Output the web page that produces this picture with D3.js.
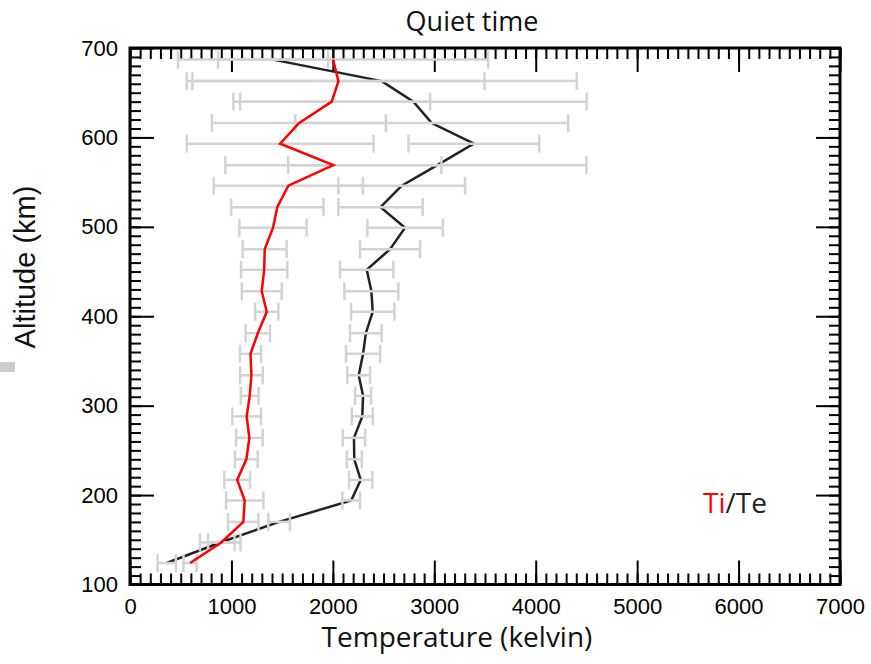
<!DOCTYPE html>
<html>
<head>
<meta charset="utf-8">
<script src="https://cdn.jsdelivr.net/npm/d3@7"></script>
<style>
  html, body { margin: 0; padding: 0; background: #fff; }
  svg { display: block; }
</style>
</head>
<body>
<svg id="chart" width="871" height="664"></svg>
<script>
// ---- data ----
const altitude = [124,147,170,194,217,240,264,288,311,334,358,381,405,428,452,475,499,522,546,569,593,616,640,663,687];
const ionTemp  = [592,900,1117,1131,1057,1147,1177,1150,1180,1197,1188,1260,1348,1299,1323,1328,1410,1452,1561,2005,1480,1665,1989,2055,2002];
const ionErr   = [65,130,150,184,127,112,131,141,87,112,104,120,115,197,228,217,332,455,735,1065,920,858,970,1440,1529];
const elecTemp = [362,890,1470,2181,2275,2211,2208,2290,2298,2255,2298,2325,2393,2380,2334,2564,2712,2470,2679,3030,3390,2975,2794,2482,1410];
const elecErr  = [90,200,107,87,115,74,110,104,79,112,168,156,214,266,263,296,372,416,624,1470,644,1345,1708,1923,542];
const xMajorTicks = [0,1000,2000,3000,4000,5000,6000,7000];
const yMajorTicks = [100,200,300,400,500,600,700];
const titleText = "Quiet time";
const xTitle = "Temperature (kelvin)";
const yTitle = "Altitude (km)";

// ---- layout ----
const svg = d3.select("#chart");
const L = 130, R = 840, T = 48, B = 584.5;
const x = d3.scaleLinear().domain([0, 7000]).range([L, R]);
const y = d3.scaleLinear().domain([100, 700]).range([B, T]);
const xMinor = d3.range(0, 7001, 100);
const yMinor = d3.range(100, 701, 10);

function styleAxis(g) {
  g.select(".domain").remove();
  g.selectAll(".tick line").attr("stroke", "#000").attr("stroke-width", 2);
}
function styleLabels(size) {
  return g => g.selectAll(".tick text")
    .attr("fill", "#000")
    .attr("font-family", "Liberation Sans, Arial, sans-serif")
    .attr("font-size", size)
    .style("font-size", size + "px");
}

// bottom
svg.append("g").attr("transform", `translate(0,${B})`)
  .call(d3.axisBottom(x).tickValues(xMinor).tickSize(-11).tickFormat(""))
  .call(styleAxis);
svg.append("g").attr("transform", `translate(0,${B})`)
  .call(d3.axisBottom(x).tickValues(xMajorTicks).tickSize(-24).tickPadding(14).tickFormat(d3.format("d")))
  .call(styleAxis).call(styleLabels(22));
// top
svg.append("g").attr("transform", `translate(0,${T})`)
  .call(d3.axisTop(x).tickValues(xMinor).tickSize(-11).tickFormat(""))
  .call(styleAxis);
svg.append("g").attr("transform", `translate(0,${T})`)
  .call(d3.axisTop(x).tickValues(xMajorTicks).tickSize(-24).tickFormat(""))
  .call(styleAxis);
// left
svg.append("g").attr("transform", `translate(${L},0)`)
  .call(d3.axisLeft(y).tickValues(yMinor).tickSize(-11).tickFormat(""))
  .call(styleAxis);
svg.append("g").attr("transform", `translate(${L},0)`)
  .call(d3.axisLeft(y).tickValues(yMajorTicks).tickSize(-24).tickPadding(12).tickFormat(d3.format("d")))
  .call(styleAxis).call(styleLabels(22));
// right
svg.append("g").attr("transform", `translate(${R},0)`)
  .call(d3.axisRight(y).tickValues(yMinor).tickSize(-11).tickFormat(""))
  .call(styleAxis);
svg.append("g").attr("transform", `translate(${R},0)`)
  .call(d3.axisRight(y).tickValues(yMajorTicks).tickSize(-24).tickFormat(""))
  .call(styleAxis);

// frame
svg.append("rect").attr("x", L).attr("y", T).attr("width", R - L).attr("height", B - T)
  .attr("fill", "none").attr("stroke", "#000").attr("stroke-width", 3);

const idx = d3.range(altitude.length);
const line = d3.line().x(d => d[0]).y(d => d[1]);

// electron temperature line
svg.append("path")
  .attr("d", line(idx.map(i => [x(elecTemp[i]), y(altitude[i])])))
  .attr("fill", "none").attr("stroke", "#222").attr("stroke-width", 2.5);

// error bars
function errorBars(vals, errs) {
  const g = svg.append("g").attr("stroke", "#d3d3d3").attr("stroke-width", 2.5).attr("fill", "none");
  idx.forEach(i => {
    const yy = y(altitude[i]);
    const x0 = x(vals[i] - errs[i]), x1 = x(vals[i] + errs[i]);
    g.append("line").attr("x1", x0).attr("x2", x1).attr("y1", yy).attr("y2", yy);
    g.append("line").attr("x1", x0).attr("x2", x0).attr("y1", yy - 9).attr("y2", yy + 9);
    g.append("line").attr("x1", x1).attr("x2", x1).attr("y1", yy - 9).attr("y2", yy + 9);
  });
}
errorBars(ionTemp, ionErr);
errorBars(elecTemp, elecErr);

// ion temperature line
svg.append("path")
  .attr("d", line(idx.map(i => [x(ionTemp[i]), y(altitude[i])])))
  .attr("fill", "none").attr("stroke", "#ff0000").attr("stroke-width", 2.5);

// titles
svg.append("text").attr("x", 472).attr("y", 31).attr("text-anchor", "middle")
  .style("font", "27px 'Open Sans', sans-serif").attr("fill", "#111").text(titleText);
svg.append("text").attr("x", 457).attr("y", 647).attr("text-anchor", "middle")
  .style("font", "28px 'Open Sans', sans-serif").attr("fill", "#111").text(xTitle);
svg.append("text").attr("transform", "translate(35,267) rotate(-90)").attr("text-anchor", "middle")
  .style("font", "29px 'Liberation Sans', Arial, sans-serif").attr("fill", "#111").text(yTitle);

// small grey mark at left edge
svg.append("rect").attr("x", 0).attr("y", 362).attr("width", 15).attr("height", 10).attr("fill", "#cccccc");

// legend
const leg = svg.append("text").attr("x", 703).attr("y", 513)
  .style("font", "28px 'Open Sans', sans-serif");
leg.append("tspan").attr("fill", "#ff0000").text("Ti");
leg.append("tspan").attr("fill", "#222").text("/Te");
</script>
</body>
</html>
